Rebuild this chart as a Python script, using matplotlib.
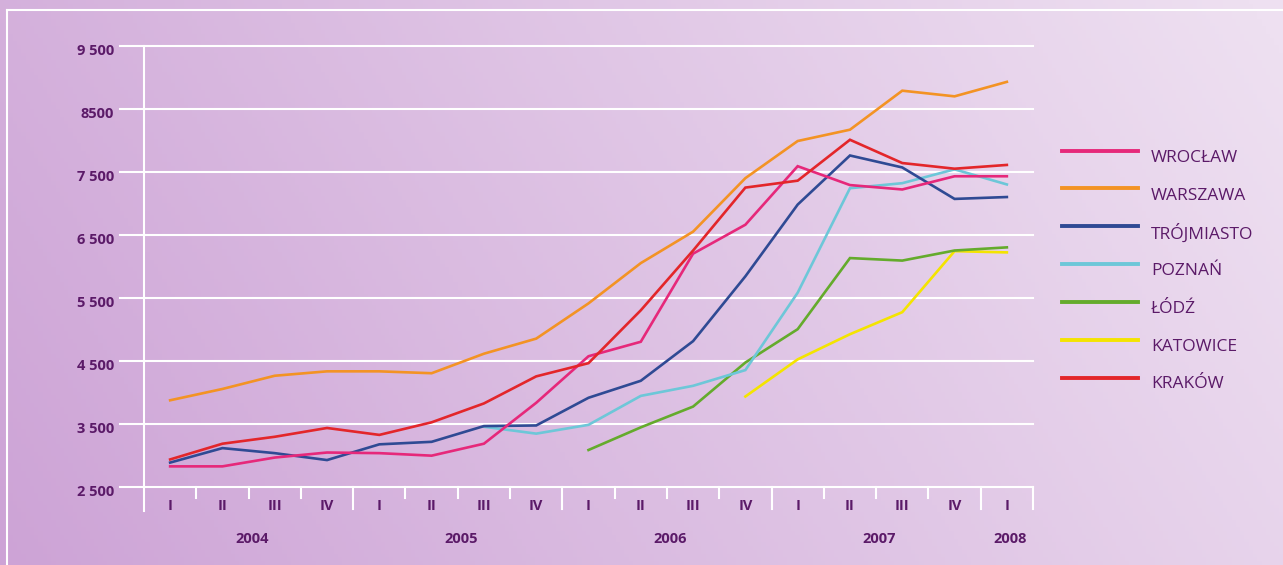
import matplotlib
matplotlib.use("Agg")
import matplotlib.pyplot as plt
import numpy as np
from matplotlib.lines import Line2D

plt.rcParams['font.family'] = ['Open Sans', 'DejaVu Sans']

# quarters 2004 I .. 2008 I
quarters = ['I', 'II', 'III', 'IV'] * 4 + ['I']
years = ['2004', '2005', '2006', '2007', '2008']
year_pos = [1.5, 5.5, 9.5, 13.5, 16]
yticks = [2500, 3500, 4500, 5500, 6500, 7500, 8500, 9500]
ytick_labels = ['2 500', '3 500', '4 500', '5 500', '6 500', '7 500', '8500', '9 500']

# prices per city (None = no data yet)
wroclaw = [2820, 2820, 2960, 3040, 3030, 2990, 3180, 3830, 4570, 4800, 6200, 6660, 7590, 7290, 7220, 7430, 7430]
warszawa = [3870, 4050, 4260, 4330, 4330, 4300, 4610, 4850, 5410, 6050, 6550, 7400, 7990, 8170, 8790, 8700, 8930]
trojmiasto = [2880, 3110, 3030, 2920, 3170, 3210, 3460, 3470, 3910, 4180, 4810, 5840, 6980, 7760, 7570, 7070, 7100]
poznan = [None] * 6 + [3450, 3340, 3480, 3940, 4100, 4350, 5580, 7240, 7320, 7540, 7300]
lodz = [None] * 8 + [3080, 3440, 3770, 4470, 5000, 6130, 6090, 6250, 6300]
katowice = [None] * 11 + [3930, 4520, 4920, 5270, 6240, 6220]
krakow = [2930, 3180, 3290, 3430, 3320, 3520, 3820, 4250, 4460, 5300, 6250, 7250, 7360, 8010, 7640, 7550, 7610]

cities = ['WROCŁAW', 'WARSZAWA', 'TRÓJMIASTO', 'POZNAŃ', 'ŁÓDŹ', 'KATOWICE', 'KRAKÓW']
series = [wroclaw, warszawa, trojmiasto, poznan, lodz, katowice, krakow]
colors = ['#e6287a', '#f39324', '#2f4a94', '#6dc7d8', '#64ab2c', '#f4e400', '#e3262a']

txt = '#5b1a68'
W, H = 1283, 565
fig = plt.figure(figsize=(W / 100, H / 100), dpi=100)

# gradient background
bg = fig.add_axes([0, 0, 1, 1], zorder=-10)
gx, gy = np.meshgrid(np.linspace(0, 1, 300), np.linspace(0, 1, 150))
t = np.clip(0.8 * gx + 0.22 * (1 - gy), 0, 1)
c0 = np.array([0xcd, 0xa3, 0xd6]) / 255
c1 = np.array([0xee, 0xe0, 0xf1]) / 255
img = c0[None, None, :] + (c1 - c0)[None, None, :] * t[:, :, None]
bg.imshow(img, aspect='auto', extent=[0, 1, 0, 1], origin='upper')
bg.set_axis_off()

# white frame (top and left)
fig.add_artist(Line2D([7 / W, 7 / W], [0, 1 - 10 / H], color='white', lw=1.5))
fig.add_artist(Line2D([7 / W, 1], [1 - 10 / H, 1 - 10 / H], color='white', lw=1.5))

ax = fig.add_axes([144 / W, 1 - 486.5 / H, (1033 - 144) / W, (486.5 - 46) / H])
ax.set_facecolor('none')
ax.set_xlim(-0.5, 16.5)
ax.set_ylim(2500, 9500)
for s in ax.spines.values():
    s.set_visible(False)
ax.set_xticks([])
ax.set_yticks([])

x = np.arange(len(quarters))
dx = 24 / 52.3
for v, lab in zip(yticks, ytick_labels):
    ax.plot([-0.5 - dx, 16.5], [v, v], color='white', lw=1.5, clip_on=False, zorder=1)
    ax.text(-0.5 - 30 / 52.3, v - 80, lab, ha='right', va='center', fontsize=10.5,
            fontweight='bold', color=txt)

# y axis line
ax.plot([-0.5, -0.5], [2500 - 24 * 15.9, 9500], color='white', lw=1.5, clip_on=False, zorder=1)
# bottom ticks
for i in range(17):
    b = i + 0.5
    long = (i + 1) % 4 == 0 or i == 16
    ln = 22 if long else 11
    ax.plot([b, b], [2500, 2500 - ln * 15.9], color='white', lw=1.5, clip_on=False, zorder=1)

for xi, q in zip(x, quarters):
    ax.text(xi, 2500 - 19 * 15.9, q, ha='center', va='center', fontsize=10.5,
            fontweight='bold', color=txt)
for yp, yr in zip(year_pos, years):
    ax.text(yp + 0.06, 2500 - 52 * 15.9, yr, ha='center', va='center', fontsize=10.5,
            fontweight='bold', color=txt)

order = [5, 4, 3, 2, 0, 1, 6]
for k in order:
    vals = np.array([np.nan if v is None else v for v in series[k]], dtype=float)
    ax.plot(x, vals, color=colors[k], lw=1.9, zorder=3, solid_joinstyle='miter')

# legend
for k, (name, col) in enumerate(zip(cities, colors)):
    yy = 1 - (150.7 + 37.8 * k) / H
    fig.add_artist(Line2D([1062 / W, 1138 / W], [yy, yy], color=col, lw=2.8))
    fig.text(1151 / W, yy - 7 / H, name, ha='left', va='center', fontsize=12.5, color=txt)

fig.savefig('out.png', dpi=100)
